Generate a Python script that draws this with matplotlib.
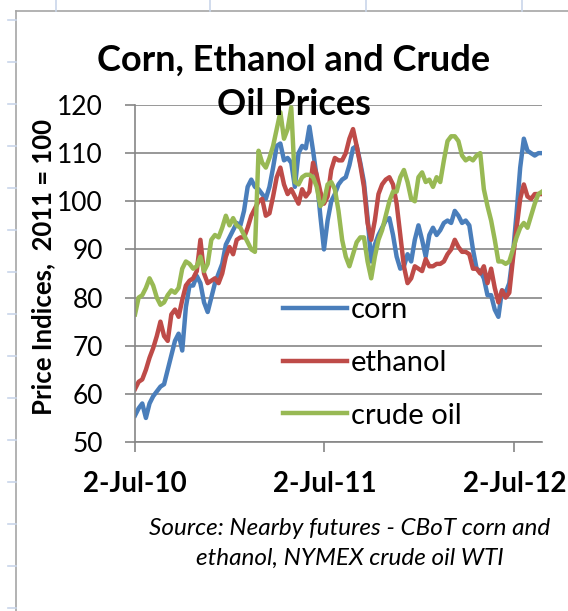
import numpy as np
import pandas as pd
import matplotlib.pyplot as plt
import matplotlib.dates as mdates
from matplotlib.lines import Line2D

# weekly nearby futures, price indices (2011 = 100)
dates = pd.date_range('2010-07-02', periods=113, freq='7D')

corn = [55.5, 57, 58, 55, 58, 59.5, 60.5, 61.5, 62, 65, 68, 71, 72.5, 69, 78, 82.5,
        82.5, 84.5, 83, 79, 77, 80, 83, 85, 87, 91, 92.5, 94,
        95.5, 95, 98, 103, 104.5, 103, 102.5, 101.5, 100.5, 103, 107, 111.5, 112, 108.5,
        109, 108, 103, 110, 111.5, 111, 115.5, 110.5, 105, 97, 90, 96,
        100, 101.5,
        103.5, 104.5, 105, 107.5, 111, 111.5, 108, 104, 96.5, 87.5, 91, 93, 94.5, 96,
        96.5, 93, 88.5, 86, 86.5, 89, 87.5, 92, 95, 92, 88.5,
        93, 94.5, 93, 94, 95.5, 96, 95.5, 98, 97, 95.5, 96, 95, 90, 86, 85.5, 84,
        80.5, 80.5, 77.5, 76, 81.5, 81, 83, 89, 97.5, 107, 113, 110.5, 110, 109.5, 110, 110]

ethanol = [61, 62.5, 63, 65, 67.5, 69.5, 72, 75, 72, 71, 76.5, 77.5, 76, 79.5, 82.5,
           83.5, 84, 85.5, 92, 85, 83, 83.5, 84, 83, 85, 88.5,
           90.5, 89, 92, 92.5, 92.5, 94.5, 97, 98.5, 100, 100.5, 97, 97.5, 101, 105, 107,
           103.5, 101.5, 102.5, 101, 99.5, 102.5, 101, 102, 108, 105.5, 102, 99.5, 101,
           106.5, 109, 108.5, 108.5, 110, 113, 115, 111.5, 107.5, 103, 95.5, 92, 96, 101.5,
           103.5, 104.5, 105, 103.5, 99.5, 93, 86.5, 83, 84, 86.5, 86, 85.5, 88,
           86.5, 86.5, 87, 87, 87.5, 89, 90, 92, 90.5, 89.5, 89.5, 89, 86, 86, 85, 86.5,
           83, 86, 82, 79, 81.5, 80, 81, 88, 94.5, 100.5, 103.5, 101, 100.5, 101.5, 101.5,
           101.5]

crude = [76.5, 80, 80.5, 82, 84, 82.5, 80, 78.5, 79, 80.5, 81.5, 81, 82, 86, 87.5, 87,
         86, 86.5, 88.5, 85.5, 87, 92, 93, 92.5, 94.5, 97, 95, 96.5, 95,
         94.5, 93, 91.5, 90, 89.5, 110.5, 108, 107, 109, 111.5, 115, 118.5, 113, 115,
         119.5, 104, 103.5, 105, 105.5, 105.5, 105, 103, 99, 100, 103.5,
         104, 102.5, 98, 92, 88.5, 86.5, 89, 91.5, 92.5, 92.5, 87.5, 84, 88.5, 92, 94,
         97, 100, 102, 102, 105, 106.5, 104, 100.5, 100, 105, 106, 104,
         104.5, 103, 105, 104, 108.5, 112.5, 113.5, 113.5, 112.5, 109.5, 108.5, 109,
         108.5, 109.5, 110, 102.5, 99, 96, 92, 87.5, 87.5, 87, 87.5, 90, 92.5, 94.5,
         95.5, 94.5, 97, 99.5, 101.5, 102]

tick_dates = pd.to_datetime(['2010-07-02', '2011-07-02', '2012-07-02'])
tick_labels = ['2-Jul-10', '2-Jul-11', '2-Jul-12']

font = 'Lato'
grey = '#868686'

fig = plt.figure(figsize=(5.68, 6.11), dpi=100)
ax = fig.add_axes([135 / 568, 1 - 442 / 611, 407 / 568, 337 / 611])

ax.plot(dates, corn, color='#4A7EBB', lw=3.2, label='corn', solid_joinstyle='round')
ax.plot(dates, ethanol, color='#BE4B48', lw=3.2, label='ethanol', solid_joinstyle='round')
ax.plot(dates, crude, color='#98B954', lw=3.2, label='crude oil', solid_joinstyle='round')

ax.set_ylim(50, 120)
ax.set_yticks(range(50, 121, 10))
ax.set_xlim(dates[0], dates[-1])
ax.set_xticks(tick_dates)
ax.set_xticklabels(tick_labels, fontfamily=font, fontweight='bold', fontsize=20)
ax.tick_params(axis='y', labelsize=19, length=7, color=grey, width=1.2, pad=16)
ax.tick_params(axis='x', length=7, color=grey, width=1.2, pad=14)
for lab in ax.get_yticklabels():
    lab.set_fontfamily(font)
ax.grid(axis='y', color=grey, lw=1.2)
ax.set_axisbelow(True)
for s in ['top', 'right']:
    ax.spines[s].set_visible(False)
for s in ['left', 'bottom']:
    ax.spines[s].set_color(grey)
    ax.spines[s].set_linewidth(1.2)

ax.set_ylabel('Price Indices,  2011 = 100', fontfamily=font, fontweight='bold',
              fontsize=18.5)
ax.yaxis.set_label_coords(-0.195, 0.52)

ax.legend(loc='upper left', bbox_to_anchor=(0.334, 0.465), frameon=False,
          prop={'family': font, 'size': 21}, handlelength=2.2, handletextpad=0.15,
          labelspacing=0.92, borderaxespad=0, borderpad=0.4)

# title
fig.text(294 / 568, 1 - 71 / 611, 'Corn, Ethanol and Crude', ha='center', va='baseline',
         fontfamily=font, fontweight='bold', fontsize=26)
fig.text(294 / 568, 1 - 115 / 611, 'Oil Prices', ha='center', va='baseline',
         fontfamily=font, fontweight='bold', fontsize=26)

# source note
fig.text(350 / 568, 1 - 535 / 611, 'Source: Nearby futures - CBoT corn and',
         ha='center', va='baseline', fontfamily=font, style='italic', fontsize=17.5)
fig.text(350 / 568, 1 - 565 / 611, 'ethanol, NYMEX crude oil WTI',
         ha='center', va='baseline', fontfamily=font, style='italic', fontsize=17.5)

# spreadsheet background: chart border and cell grid stubs
W, H = 568, 611
fig.add_artist(Line2D([16 / W, 16 / W], [0, 1 - 11 / H], color='#a6a6a6', lw=1.2))
fig.add_artist(Line2D([16 / W, 1], [1 - 11 / H, 1 - 11 / H], color='#a6a6a6', lw=1.2))
for y in range(20, 611, 42):
    fig.add_artist(Line2D([8 / W, 16 / W], [1 - y / H, 1 - y / H], color='#c9d6ea', lw=1.2))
for x in [56, 210, 366, 522]:
    fig.add_artist(Line2D([x / W, x / W], [1, 1 - 11 / H], color='#c9d6ea', lw=1.2))

plt.savefig('out.png', dpi=100)
